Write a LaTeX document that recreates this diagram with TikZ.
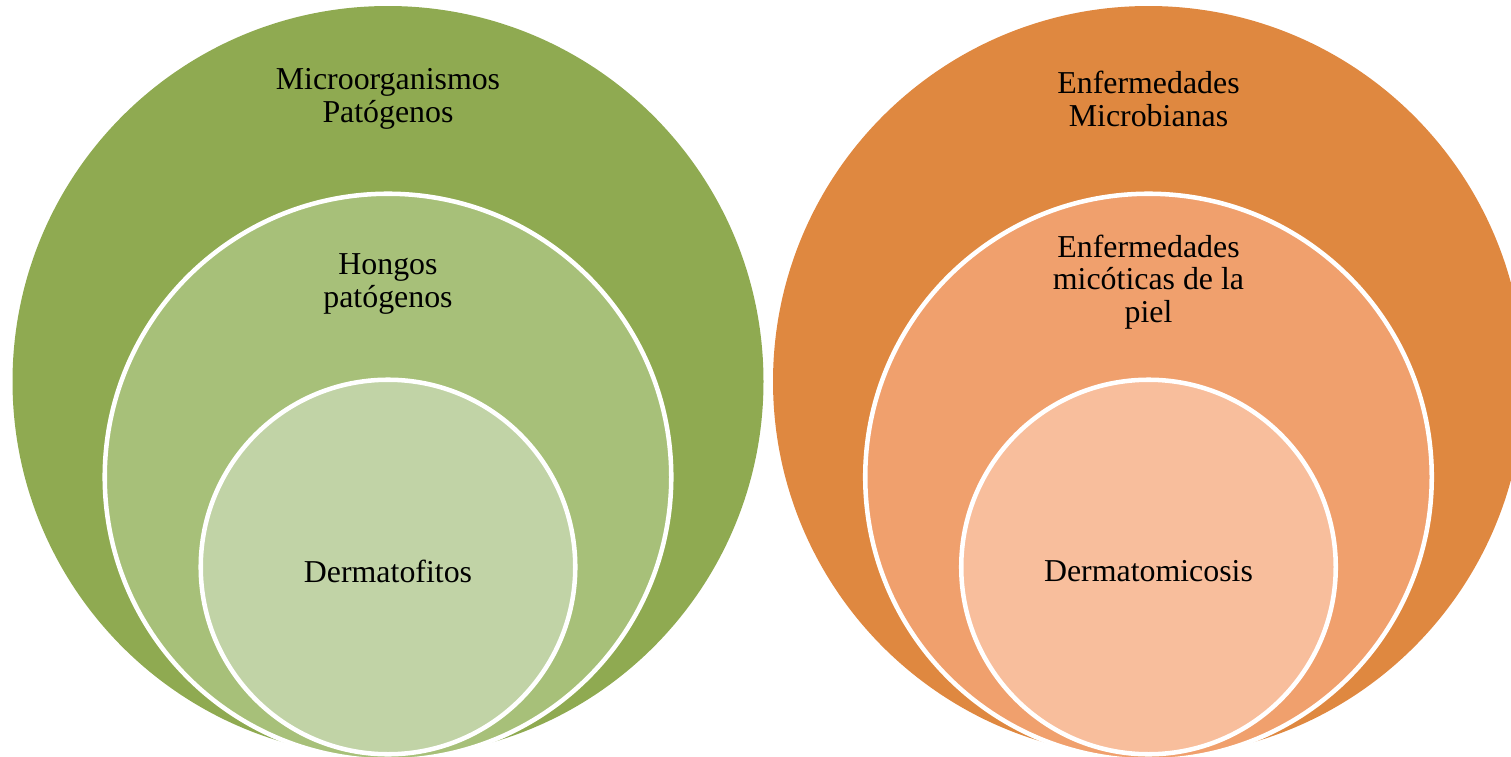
\documentclass[tikz,border=0pt]{standalone}
\usepackage{fontspec}
\setmainfont{Liberation Serif}
\definecolor{gA}{HTML}{8FAA51}
\definecolor{gB}{HTML}{A7C079}
\definecolor{gC}{HTML}{C1D3A6}
\definecolor{oA}{HTML}{DF8840}
\definecolor{oB}{HTML}{F0A06D}
\definecolor{oC}{HTML}{F8BE9C}
\tikzset{
  ring/.style={circle, draw=white, line width=3.4pt, inner sep=0pt, outer sep=0pt},
  bigc/.style={circle, inner sep=0pt, outer sep=0pt, minimum size=563.25pt},
  midc/.style={ring, minimum size=424.9pt},
  innc/.style={ring, minimum size=280.9pt},
  lbl/.style={align=center, inner sep=0pt, font=\fontsize{23.9pt}{24.4pt}\selectfont}
}
\begin{document}
\begin{tikzpicture}[x=0.75pt, y=-0.75pt]
\useasboundingbox (0,0) rectangle (1511,757);
\clip (0,0) rectangle (1511,757);
% left set
\node[bigc, fill=gA] (L1) at (388,381.5) {};
\node[midc, fill=gB] (L2) at (388,477) {};
\node[innc, fill=gC] (L3) at (388,567) {};
% right set
\node[bigc, fill=oA] (R1) at (1148.5,381.5) {};
\node[midc, fill=oB] (R2) at (1148.5,477) {};
\node[innc, fill=oC] (R3) at (1148.5,567) {};
% labels
\node[lbl] (tL1) at (388,99) {Microorganismos\\Patógenos};
\node[lbl] (tL2) at (388,284) {Hongos\\patógenos};
\node[lbl] (tL3) at (388,571) {Dermatofitos};
\node[lbl] (tR1) at (1148.5,99) {Enfermedades\\Microbianas};
\node[lbl] (tR2) at (1148.5,282) {Enfermedades\\micóticas de la\\piel};
\node[lbl] (tR3) at (1148.5,571) {Dermatomicosis};
\end{tikzpicture}
\end{document}
